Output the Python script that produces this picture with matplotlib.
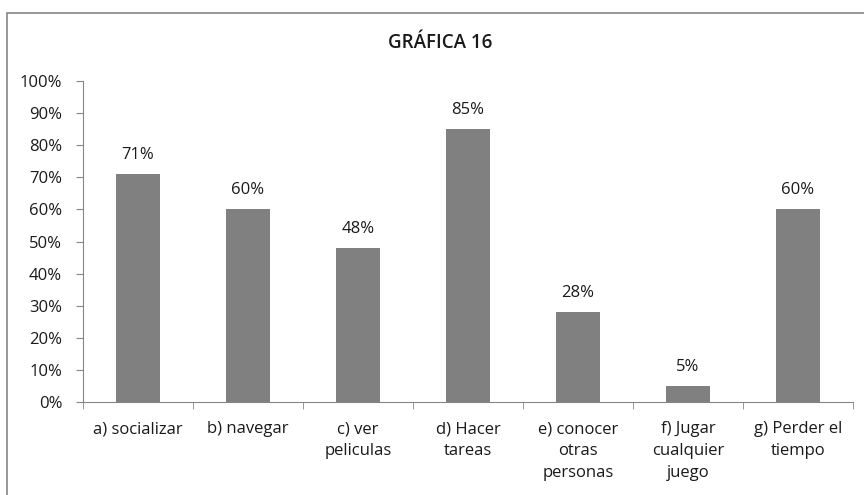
import matplotlib.pyplot as plt
from matplotlib.patches import Rectangle

categories = ["a) socializar", "b) navegar", "c) ver\npeliculas", "d) Hacer\ntareas",
              "e) conocer\notras\npersonas", "f) Jugar\ncualquier\njuego", "g) Perder el\ntiempo"]
values = [71, 60, 48, 85, 28, 5, 60]
yticks = [0, 10, 20, 30, 40, 50, 60, 70, 80, 90, 100]

plt.rcParams['font.family'] = ['Open Sans', 'DejaVu Sans']

W, H = 864, 495
fig = plt.figure(figsize=(W / 100, H / 100), dpi=100)

# outer chart border (cut off at right and bottom)
fig.patches.append(Rectangle((7 / W, -0.05), 1.1, 1 - 13 / H + 0.05, transform=fig.transFigure,
                             fill=False, edgecolor='#868686', linewidth=1.2))

ax = fig.add_axes([83 / W, 1 - 402 / H, (853 - 83) / W, (402 - 81) / H])
x = list(range(len(categories)))
ax.bar(x, values, width=0.4, color='#808080')
for xi, v in zip(x, values):
    ax.annotate(f"{v}%", (xi, v), xytext=(0, 11), textcoords='offset points',
                ha='center', va='baseline', fontsize=12, color='#1a1a1a')

ax.set_xlim(-0.5, len(categories) - 0.5)
ax.set_ylim(0, 100)
ax.set_yticks(yticks)
ax.set_yticklabels([f"{t}%" for t in yticks], fontsize=12, color='#1a1a1a')
ax.set_xticks(x)
ax.set_xticklabels(categories, fontsize=12, linespacing=1.5, va='top', color='#1a1a1a')
ax.tick_params(axis='x', length=0, pad=14)
ax.set_xticks([i + 0.5 for i in range(-1, len(categories))], minor=True)
ax.tick_params(axis='x', which='minor', length=5, color='#868686')
ax.tick_params(axis='y', length=5, color='#868686', pad=10)
for s in ['top', 'right']:
    ax.spines[s].set_visible(False)
for s in ['left', 'bottom']:
    ax.spines[s].set_color('#868686')

fig.text(440 / W, 1 - 43 / H, "GRÁFICA 16", ha='center', va='center', fontsize=13.5,
         fontweight='semibold', color='#1a1a1a')

fig.savefig("out.png", dpi=100)
